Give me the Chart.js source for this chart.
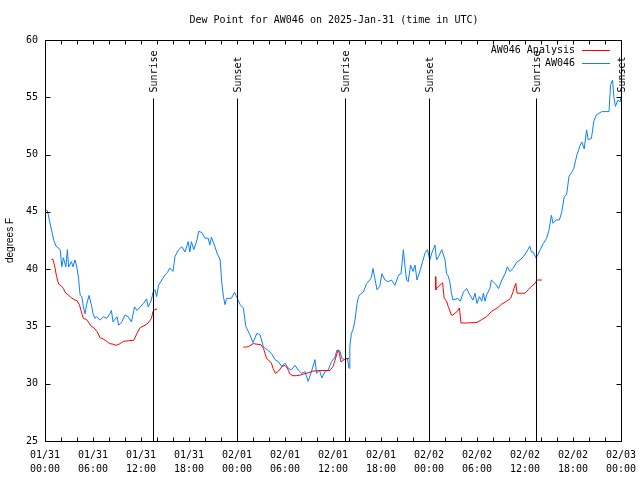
<!DOCTYPE html>
<html><head><meta charset="utf-8">
<script src="https://cdn.jsdelivr.net/npm/chart.js@4/dist/chart.umd.min.js"></script>
<style>html,body{margin:0;padding:0;background:#fff}</style>
</head><body><canvas id="c" width="640" height="480"></canvas>
<script>
const titleText = 'Dew Point for AW046 on 2025-Jan-31 (time in UTC)';
const yTitle = 'degrees F';
const seriesNames = ['AW046 Analysis', 'AW046'];
const seriesColors = ['#ff0000', '#0a7fff'];
const tickHours = [0, 6, 12, 18, 24, 30, 36, 42, 48, 54, 60, 66, 72];
const tickDates = ['01/31','01/31','01/31','01/31','02/01','02/01','02/01','02/01','02/02','02/02','02/02','02/02','02/03'];
const tickTimes = ['00:00','06:00','12:00','18:00','00:00','06:00','12:00','18:00','00:00','06:00','12:00','18:00','00:00'];
const sunriseHours = [13.48, 37.46, 61.37];
const sunsetHours = [24.0, 48.0, 71.95];

const blueHours = [0.0,0.3,0.6,1.1,1.4,1.9,2.1,2.3,2.6,2.8,2.95,3.3,3.5,3.75,4.0,4.2,4.3,4.4,4.6,4.8,5.0,5.2,5.5,5.8,6.0,6.25,6.45,6.9,7.3,7.7,8.1,8.3,8.5,9.0,9.2,9.6,10.0,10.4,10.8,11.2,11.5,11.9,12.3,12.7,12.9,13.3,13.5,13.75,13.95,14.2,14.6,15.0,15.3,15.6,16.0,16.25,16.7,17.1,17.5,17.9,18.1,18.3,18.6,19.0,19.2,19.6,20.0,20.4,20.6,20.8,21.25,21.5,21.9,22.1,22.3,22.5,22.7,23.3,23.7,24.0,24.4,24.8,25.1,25.6,26.0,26.25,26.5,26.9,27.3,27.8,28.3,28.75,29.2,29.6,30.0,30.4,30.8,31.25,31.65,32.1,32.5,32.9,33.3,33.75,33.95,34.3,34.6,35.0,35.4,35.8,36.25,36.5,36.9,37.1,37.5,37.8,38.0,38.1,38.3,38.5,38.75,39.0,39.2,39.4,39.8,40.2,40.6,40.8,41.0,41.2,41.5,41.85,42.1,42.5,42.9,43.3,43.75,44.2,44.5,44.8,45.0,45.2,45.4,45.7,46.0,46.25,46.5,46.9,47.2,47.5,47.8,48.1,48.4,48.75,48.95,49.2,49.6,50.0,50.2,50.4,50.6,50.8,51.0,51.6,51.9,52.3,52.7,53.1,53.5,53.75,54.0,54.3,54.6,54.8,55.0,55.2,55.6,55.8,56.25,56.7,57.1,57.5,57.8,58.1,58.5,59.0,59.4,59.8,60.2,60.6,60.8,61.0,61.4,61.9,62.3,62.7,63.0,63.3,63.5,63.9,64.3,64.6,64.9,65.2,65.5,65.8,66.1,66.5,66.9,67.1,67.4,67.7,67.9,68.3,68.6,68.9,69.6,70.5,70.7,70.95,71.1,71.3,71.6,71.9,72.0];
const blueValues = [45.2,45.1,44.1,42.5,42.0,41.7,40.2,41.0,40.2,41.7,40.2,40.65,40.2,40.8,40.1,39.2,38.35,37.7,37.6,36.7,36.1,36.9,37.7,36.9,36.1,35.7,35.85,35.55,35.85,35.7,36.1,36.4,35.4,35.85,35.1,35.4,36.0,35.85,35.4,36.7,36.4,36.7,37.0,37.4,36.7,37.3,38.0,38.2,37.6,38.6,39.05,39.5,39.7,40.1,39.8,41.1,41.7,41.95,41.5,42.4,41.5,42.4,41.7,42.55,43.3,43.2,42.7,42.7,42.1,42.8,41.95,41.4,40.8,38.8,37.6,36.9,37.45,37.45,38.0,37.5,36.9,36.6,35.0,34.3,33.6,34.0,34.4,34.25,33.2,32.95,32.65,32.1,31.9,31.5,31.8,31.35,31.2,31.6,31.2,30.9,31.05,30.2,31.05,32.1,30.9,31.2,30.5,31.05,31.2,31.9,32.35,32.95,32.8,32.2,32.1,32.2,31.35,33.2,34.4,34.7,35.55,37.0,37.6,37.8,38.0,38.75,39.05,39.3,40.05,39.3,38.2,38.5,39.6,39.05,38.9,39.05,38.6,39.5,39.6,41.7,40.2,39.05,38.9,40.35,39.8,40.35,39.05,39.9,40.65,41.4,41.7,40.8,41.5,42.1,40.8,41.1,41.7,40.8,39.6,39.4,38.9,37.9,37.3,37.45,37.2,38.0,38.3,37.75,37.3,37.9,37.0,37.6,37.2,37.9,37.2,37.75,38.3,39.05,38.75,38.3,39.05,39.6,40.2,39.8,40.05,40.65,40.8,41.1,41.5,42.0,41.5,41.5,40.95,41.7,42.25,42.7,43.4,44.7,44.0,44.3,44.3,45.0,46.3,46.5,48.1,48.4,48.8,50.0,50.8,51.1,50.5,52.15,51.3,51.4,52.9,53.45,53.75,53.75,56.1,56.5,55.05,54.2,54.75,54.6,55.05];

const redHours = [0.8,1.0,1.25,1.45,1.7,2.1,2.3,2.6,2.9,3.3,3.75,4.0,4.3,4.6,4.8,5.2,5.5,5.8,6.1,6.5,6.9,7.3,7.7,8.1,8.5,8.9,9.4,9.8,10.4,11.1,11.5,11.9,12.5,12.9,13.3,13.5,13.75,14.0,
  19.0,
  24.8,25.2,25.6,26.0,26.5,27.0,27.3,27.5,27.7,27.9,28.3,28.5,28.8,29.2,29.6,30.0,30.3,30.6,31.0,31.4,31.9,32.3,32.9,33.5,34.2,35.0,35.6,36.0,36.25,36.5,36.7,37.0,37.3,37.7,38.0,
  43.0,
  48.8,48.85,49.2,49.7,49.9,50.2,50.4,50.8,51.0,51.5,51.8,52.0,52.7,54.0,54.6,55.2,55.8,56.5,57.1,57.7,58.2,58.5,58.75,58.85,59.0,59.6,60.0,60.4,60.8,61.25,61.5,62.1];
const redValues = [40.85,40.85,40.1,39.35,38.7,38.5,38.3,37.9,37.75,37.5,37.3,37.25,36.9,36.15,35.7,35.6,35.3,35.0,34.9,34.55,34.0,33.9,33.7,33.5,33.45,33.35,33.5,33.7,33.75,33.8,34.4,34.9,35.1,35.3,35.7,36.3,36.5,36.5,
  null,
  33.2,33.2,33.3,33.5,33.45,33.4,33.1,32.65,32.2,32.1,31.8,31.35,30.9,31.1,31.5,31.6,31.35,30.85,30.7,30.7,30.75,30.85,30.95,31.1,31.15,31.15,31.15,31.5,32.05,32.65,32.95,31.9,32.05,32.2,32.2,
  null,
  39.35,38.2,38.5,38.8,37.45,37.2,36.75,36.0,36.0,36.3,36.6,35.3,35.3,35.35,35.6,35.85,36.3,36.6,36.95,37.2,37.45,38.0,38.6,38.75,37.9,37.9,37.9,38.2,38.5,38.75,39.05,39.05];

const MONO = '"DejaVu Sans Mono", "Liberation Mono", monospace';

const framePlugin = {
  id: 'frame',
  afterDatasetsDraw(chart) {
    const { ctx, chartArea: a, scales: { x, y } } = chart;
    ctx.save();
    ctx.strokeStyle = '#000';
    ctx.lineWidth = 1;
    const L = Math.round(a.left) + 0.5, R = Math.round(a.right) + 0.5;
    const T = Math.round(a.top) + 0.5, B = Math.round(a.bottom) + 0.5;
    ctx.strokeRect(L, T, R - L, B - T);
    ctx.beginPath();
    x.ticks.forEach(t => {
      const px = Math.round(x.getPixelForValue(t.value)) + 0.5;
      ctx.moveTo(px, B); ctx.lineTo(px, B - 4);
      ctx.moveTo(px, T); ctx.lineTo(px, T + 4);
    });
    y.ticks.forEach(t => {
      const py = Math.round(y.getPixelForValue(t.value)) + 0.5;
      ctx.moveTo(L, py); ctx.lineTo(L + 5, py);
      ctx.moveTo(R, py); ctx.lineTo(R - 5, py);
    });
    ctx.stroke();
    ctx.font = '10px ' + MONO;
    ctx.fillStyle = '#000';
    // title
    ctx.textAlign = 'center';
    ctx.textBaseline = 'middle';
    ctx.fillText(titleText, 334, 20);
    // sun events
    const events = sunriseHours.map(h => [h, 'Sunrise']).concat(sunsetHours.map(h => [h, 'Sunset']));
    events.forEach(([h, lab]) => {
      const px = Math.round(x.getPixelForValue(h)) + 0.5;
      ctx.beginPath();
      ctx.moveTo(px, T + 58); ctx.lineTo(px, B);
      ctx.stroke();
      ctx.save();
      ctx.translate(px + 1, T + 52);
      ctx.rotate(-Math.PI / 2);
      ctx.textAlign = 'left';
      ctx.textBaseline = 'middle';
      ctx.fillText(lab, 0, 0);
      ctx.restore();
    });
    // legend
    chart.data.datasets.forEach((ds, i) => {
      const ly = T + 9.5 + i * 13;
      ctx.textAlign = 'right';
      ctx.textBaseline = 'middle';
      ctx.fillStyle = '#000';
      ctx.fillText(ds.label, 575, ly);
      ctx.strokeStyle = ds.borderColor;
      ctx.beginPath();
      ctx.moveTo(582, Math.round(ly) + 0.5); ctx.lineTo(610, Math.round(ly) + 0.5);
      ctx.stroke();
    });
    ctx.restore();
  }
};

new Chart(document.getElementById('c'), {
  type: 'line',
  data: {
    datasets: [
      { label: seriesNames[0], data: redHours.map((h, i) => ({ x: h, y: redValues[i] })), borderColor: seriesColors[0], borderWidth: 1, pointRadius: 0, tension: 0, spanGaps: false },
      { label: seriesNames[1], data: blueHours.map((h, i) => ({ x: h, y: blueValues[i] })), borderColor: seriesColors[1], borderWidth: 1, pointRadius: 0, tension: 0 }
    ]
  },
  options: {
    responsive: false,
    animation: false,
    devicePixelRatio: 1,
    layout: { padding: { left: 0, right: 19, top: 40, bottom: 0 } },
    plugins: {
      legend: { display: false },
      tooltip: { enabled: false },
      title: { display: false }
    },
    scales: {
      x: {
        type: 'linear', min: 0, max: 72,
        grid: { display: false, drawTicks: false },
        border: { display: false },
        afterFit: s => { s.height = 39; s.paddingLeft = 0; s.paddingRight = 0; },
        ticks: {
          stepSize: 2, autoSkip: false, maxRotation: 0, padding: 7, color: '#000',
          font: { family: MONO, size: 10, lineHeight: 1.4 },
          callback: v => { const i = tickHours.indexOf(v); return i >= 0 ? [tickDates[i], tickTimes[i]] : ''; }
        }
      },
      y: {
        min: 25, max: 60,
        grid: { display: false, drawTicks: false },
        border: { display: false },
        afterFit: s => { s.width = 45; s.paddingTop = 0; s.paddingBottom = 0; },
        title: { display: true, text: yTitle, color: '#000', font: { family: '"Liberation Sans", Arial, sans-serif', size: 10 }, padding: { top: 4, bottom: 0 } },
        ticks: { stepSize: 5, padding: 7, color: '#000', font: { family: MONO, size: 10 } }
      }
    }
  },
  plugins: [framePlugin]
});
</script>
</body></html>
